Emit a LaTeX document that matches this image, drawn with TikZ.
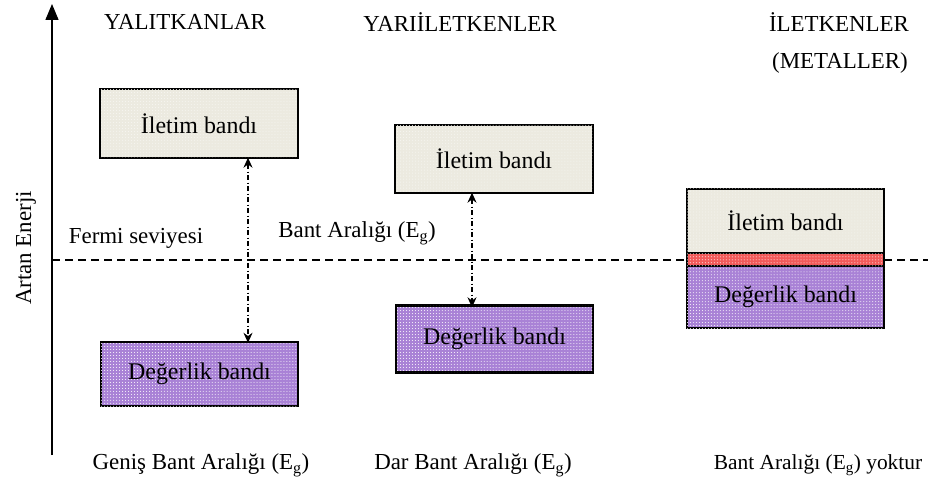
\documentclass[tikz,border=0pt]{standalone}
\usepackage{fontspec}
\setmainfont{Liberation Serif}
\usetikzlibrary{arrows.meta,patterns}
\definecolor{beige}{HTML}{ECEAE0}
\definecolor{purp}{HTML}{A982D6}
\definecolor{redb}{HTML}{F25A5A}
\begin{document}
\begin{tikzpicture}[x=1bp,y=-1bp,
  txt/.style={font=\fontsize{23}{26}\selectfont, inner sep=0pt},
  bandbox/.style={draw=black, line width=2.4bp, inner sep=0pt, font=\fontsize{24}{27}\selectfont},
  iletim/.style={bandbox, fill=beige, postaction={pattern=dots, pattern color=white!60!beige}},
  degerlik/.style={bandbox, fill=purp, postaction={pattern=dots, pattern color=white}},
  redband/.style={bandbox, fill=redb, postaction={pattern=dots, pattern color=white}},
  gaparrow/.style={line width=1.1bp, dash pattern=on 5bp off 2.5bp on 1bp off 2.5bp, {Stealth[length=10bp,width=9bp]}-{Stealth[length=10bp,width=9bp]}},
  axisarrow/.style={line width=1.5bp, -{Triangle[length=16bp,width=13bp]}},
  fermi/.style={line width=1.4bp, dash pattern=on 8bp off 5bp}
]
\useasboundingbox (0,0) rectangle (928,481);

% axis
\coordinate (ab) at (52,455);
\coordinate (at) at (52,4);
\draw[axisarrow] (ab) -- (at);
\node[txt, rotate=90] (axlbl) at (26,248) {Artan Enerji};

% titles
\node[txt] (t1) at (185,22) {YALITKANLAR};
\node[txt] (t2) at (460,22) {YARIİLETKENLER};
\node[txt] (t3) at (839,22) {İLETKENLER};
\node[txt] (t3b) at (840,63) {(METALLER)};

% Fermi line
\coordinate (fl) at (52,260);
\coordinate (fr) at (928,260);
\draw[fermi] (fl) -- (fr);
\node[txt] (fermilbl) at (136,238) {Fermi seviyesi};
\node[txt] (bantlbl) at (357,233) {Bant Aralığı (E\textsubscript{g})};

% insulators
\node[iletim, minimum width=198bp, minimum height=69bp] (b1i) at (199,123.5) {İletim bandı};
\node[degerlik, minimum width=197bp, minimum height=64bp] (b1d) at (199.5,374) {Değerlik bandı};

% semiconductors
\node[iletim, minimum width=198bp, minimum height=68bp] (b2i) at (494,159) {İletim bandı};
\node[degerlik, minimum width=197bp, minimum height=67bp] (b2d) at (494.5,339) {Değerlik bandı};

% metals
\node[iletim, minimum width=197bp, minimum height=64bp] (b3i) at (785.5,221) {İletim bandı};
\node[redband, minimum width=197bp, minimum height=13bp] (b3r) at (785.5,259.5) {};
\node[degerlik, minimum width=197bp, minimum height=62bp] (b3d) at (785.5,297) {Değerlik bandı};

% gap arrows
\coordinate (a1x) at (248,0);
\coordinate (a2x) at (472,0);
\draw[gaparrow] ([yshift=1.5bp]b1i.south -| a1x) -- ([yshift=-2bp]b1d.north -| a1x);
\draw[gaparrow] ([yshift=1.5bp]b2i.south -| a2x) -- ([yshift=-3bp]b2d.north -| a2x);

% bottom labels
\node[txt] (l1) at (201,465) {Geniş Bant Aralığı (E\textsubscript{g})};
\node[txt] (l2) at (473,465) {Dar Bant Aralığı (E\textsubscript{g})};
\node[txt, font=\fontsize{21.5}{24}\selectfont] (l3) at (818,465) {Bant Aralığı (E\textsubscript{g}) yoktur};
\end{tikzpicture}
\end{document}
